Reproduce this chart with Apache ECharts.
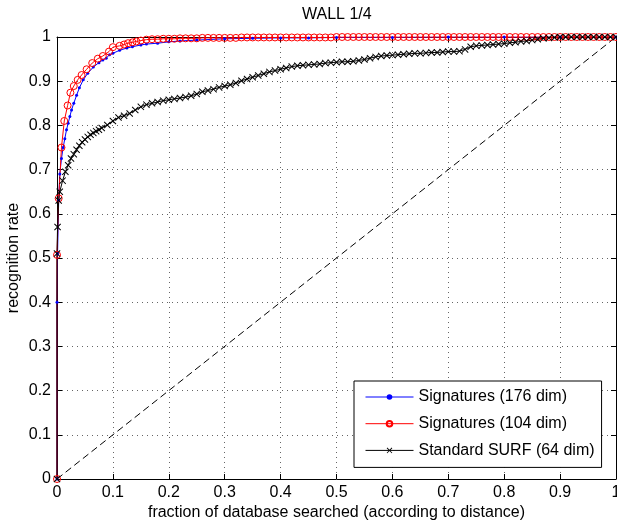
<!DOCTYPE html>
<html>
<head>
<meta charset="utf-8">
<script src="https://cdn.jsdelivr.net/npm/echarts@6/dist/echarts.min.js"></script>
<style>
  html, body { margin: 0; padding: 0; background: #fff; }
  #main { width: 617px; height: 522px; }
</style>
</head>
<body>
<div id="main"></div>
<script>
// [fraction searched, recognition rate]
var sig176 = [
  [0, 0], [0, 0.40], [0.001, 0.51], [0.003, 0.63], [0.005, 0.69], [0.008, 0.725],
  [0.011, 0.75], [0.014, 0.77], [0.017, 0.79], [0.02, 0.805], [0.023, 0.82],
  [0.026, 0.835], [0.03, 0.85], [0.035, 0.868], [0.04, 0.885], [0.047, 0.903],
  [0.055, 0.918], [0.065, 0.932], [0.075, 0.942], [0.082, 0.948], [0.088, 0.952],
  [0.094, 0.96], [0.1, 0.963], [0.112, 0.97], [0.125, 0.975], [0.135, 0.978],
  [0.15, 0.982], [0.16, 0.984], [0.18, 0.986], [0.2, 0.989], [0.22, 0.991],
  [0.25, 0.993], [0.3, 0.996], [0.35, 0.997], [0.4, 0.998], [0.45, 0.998],
  [0.5, 0.999], [0.6, 0.999], [0.7, 1], [0.8, 1], [0.9, 1], [1, 1]
];

var sig104 = [
  [0, 0], [0, 0.507], [0.003, 0.635], [0.008, 0.75], [0.013, 0.81], [0.019, 0.845],
  [0.024, 0.874], [0.03, 0.889], [0.037, 0.903], [0.044, 0.914], [0.053, 0.927],
  [0.063, 0.941], [0.073, 0.951], [0.082, 0.957], [0.093, 0.967], [0.1, 0.977],
  [0.112, 0.98], [0.12, 0.983], [0.127, 0.986], [0.135, 0.988], [0.142, 0.99],
  [0.15, 0.992], [0.16, 0.994], [0.17, 0.995], [0.18, 0.995], [0.19, 0.996],
  [0.2, 0.996], [0.21, 0.996], [0.22, 0.997], [0.23, 0.997], [0.24, 0.997],
  [0.25, 0.997], [0.26, 0.998], [0.27, 0.998], [0.28, 0.998], [0.29, 0.998],
  [0.3, 0.998], [0.31, 0.998], [0.32, 0.998], [0.33, 0.999], [0.34, 0.999],
  [0.35, 0.999], [0.36, 0.999], [0.37, 0.999], [0.38, 0.999], [0.39, 0.999],
  [0.4, 0.999], [0.41, 0.999], [0.42, 0.999], [0.43, 0.999], [0.44, 0.999],
  [0.45, 0.999], [0.46, 0.999], [0.47, 0.999], [0.48, 0.999], [0.49, 0.999],
  [0.5, 1], [0.51, 1], [0.52, 1], [0.53, 1], [0.54, 1], [0.55, 1], [0.56, 1],
  [0.57, 1], [0.58, 1], [0.59, 1], [0.6, 1], [0.61, 1], [0.62, 1], [0.63, 1],
  [0.64, 1], [0.65, 1], [0.66, 1], [0.67, 1], [0.68, 1], [0.69, 1], [0.7, 1],
  [0.71, 1], [0.72, 1], [0.73, 1], [0.74, 1], [0.75, 1], [0.76, 1], [0.77, 1],
  [0.78, 1], [0.79, 1], [0.8, 1], [0.81, 1], [0.82, 1], [0.83, 1], [0.84, 1],
  [0.85, 1], [0.86, 1], [0.87, 1], [0.88, 1], [0.89, 1], [0.9, 1], [0.91, 1],
  [0.92, 1], [0.93, 1], [0.94, 1], [0.95, 1], [0.96, 1], [0.97, 1], [0.98, 1],
  [0.99, 1], [1, 1]
];

var surf64 = [
  [0, 0], [0, 0.51], [0.001, 0.57], [0.003, 0.63], [0.005, 0.65], [0.01, 0.675],
  [0.015, 0.695], [0.02, 0.71], [0.025, 0.725], [0.03, 0.735], [0.035, 0.745],
  [0.04, 0.754], [0.045, 0.762], [0.05, 0.768], [0.055, 0.774], [0.06, 0.779],
  [0.065, 0.783], [0.07, 0.787], [0.075, 0.79], [0.08, 0.794], [0.09, 0.801],
  [0.1, 0.81], [0.11, 0.818], [0.12, 0.822], [0.13, 0.827], [0.14, 0.835],
  [0.15, 0.842], [0.16, 0.847], [0.17, 0.85], [0.18, 0.853], [0.19, 0.856],
  [0.2, 0.858], [0.21, 0.86], [0.22, 0.862], [0.23, 0.864], [0.24, 0.867],
  [0.25, 0.871], [0.26, 0.876], [0.27, 0.879], [0.28, 0.882], [0.29, 0.886],
  [0.3, 0.889], [0.31, 0.892], [0.32, 0.896], [0.33, 0.901], [0.34, 0.905],
  [0.35, 0.909], [0.36, 0.913], [0.37, 0.917], [0.38, 0.921], [0.39, 0.924],
  [0.4, 0.927], [0.41, 0.93], [0.42, 0.933], [0.43, 0.935], [0.44, 0.936],
  [0.45, 0.937], [0.46, 0.938], [0.47, 0.939], [0.48, 0.941], [0.49, 0.942],
  [0.5, 0.943], [0.51, 0.944], [0.52, 0.944], [0.53, 0.945], [0.54, 0.947],
  [0.55, 0.949], [0.56, 0.952], [0.57, 0.955], [0.58, 0.957], [0.59, 0.958],
  [0.6, 0.959], [0.61, 0.96], [0.62, 0.961], [0.63, 0.962], [0.64, 0.963],
  [0.65, 0.963], [0.66, 0.964], [0.67, 0.965], [0.68, 0.965], [0.69, 0.966],
  [0.7, 0.967], [0.71, 0.967], [0.72, 0.968], [0.73, 0.972], [0.74, 0.978],
  [0.75, 0.98], [0.76, 0.981], [0.77, 0.982], [0.78, 0.983], [0.79, 0.984],
  [0.8, 0.985], [0.81, 0.987], [0.82, 0.988], [0.83, 0.99], [0.84, 0.991],
  [0.85, 0.993], [0.86, 0.995], [0.87, 0.997], [0.88, 0.998], [0.89, 0.999],
  [0.9, 1], [0.91, 1], [0.92, 1], [0.93, 1], [0.94, 1], [0.95, 1], [0.96, 1],
  [0.97, 1], [0.98, 1], [0.99, 1], [1, 1]
];

var chanceLine = [[0, 0], [1, 1]];

var seriesNames = ['Signatures (176 dim)', 'Signatures (104 dim)', 'Standard SURF (64 dim)'];

var FONT = 'Liberation Sans, Arial, Helvetica, sans-serif';
var crossPath = 'path://M0,1L1,0L5,4L9,0L10,1L6,5L10,9L9,10L5,6L1,10L0,9L4,5Z';

var chart = echarts.init(document.getElementById('main'), null, { renderer: 'canvas' });

function frameAxis(pos) {
  return {
    type: 'value', position: pos, min: 0, max: 1, interval: 0.1,
    axisLine: { show: true, onZero: false, lineStyle: { color: '#000', width: 1 } },
    axisTick: { show: true, inside: true, length: 5, lineStyle: { color: '#000' } },
    axisLabel: { show: false },
    splitLine: { show: false }
  };
}

var option = {
  animation: false,
  backgroundColor: '#fff',
  textStyle: { fontFamily: FONT },
  title: {
    text: 'WALL 1/4',
    left: 302, top: 7, padding: 0,
    textStyle: { fontFamily: FONT, fontSize: 16, fontWeight: 'normal', color: '#000' }
  },
  grid: { left: 57, top: 37, right: 1, bottom: 43, containLabel: false, outerBoundsMode: 'none' },
  legend: {
    data: seriesNames,
    orient: 'vertical',
    left: 354, top: 381,
    padding: [8, 7, 9, 11],
    itemWidth: 48, itemHeight: 7, itemGap: 10.7,
    backgroundColor: '#fff',
    borderColor: '#000', borderWidth: 1, borderRadius: 0,
    lineStyle: { width: 1 },
    textStyle: { fontFamily: FONT, fontSize: 16, color: '#000', lineHeight: 16 }
  },
  xAxis: [{
    type: 'value', min: 0, max: 1, interval: 0.1,
    name: 'fraction of database searched (according to distance)',
    nameLocation: 'middle', nameGap: 26, nameMoveOverlap: false,
    nameTextStyle: { fontFamily: FONT, fontSize: 16, color: '#000' },
    axisLine: { show: true, onZero: false, lineStyle: { color: '#000', width: 1 } },
    axisTick: { show: true, inside: true, length: 5, lineStyle: { color: '#000' } },
    axisLabel: { fontFamily: FONT, fontSize: 16, color: '#000', margin: 6 },
    splitLine: { show: true, lineStyle: { color: '#666', type: [1, 4], width: 1 } }
  }, frameAxis('top')],
  yAxis: [{
    type: 'value', min: 0, max: 1, interval: 0.1,
    name: 'recognition rate',
    nameLocation: 'middle', nameGap: 35, nameMoveOverlap: false,
    nameTextStyle: { fontFamily: FONT, fontSize: 16, color: '#000' },
    axisLine: { show: true, onZero: false, lineStyle: { color: '#000', width: 1 } },
    axisTick: { show: true, inside: true, length: 5, lineStyle: { color: '#000' } },
    axisLabel: { fontFamily: FONT, fontSize: 16, color: '#000', margin: 6 },
    splitLine: { show: true, lineStyle: { color: '#666', type: [1, 4], width: 1 } }
  }, frameAxis('right')],
  series: [
    {
      name: 'chance',
      type: 'line',
      data: chanceLine,
      symbol: 'none',
      silent: true,
      lineStyle: { color: '#000', width: 1, type: [7, 4] }
    },
    {
      name: seriesNames[0],
      type: 'line',
      data: sig176,
      symbol: 'circle', symbolSize: 3, showAllSymbol: true,
      itemStyle: { color: '#0000ff' },
      lineStyle: { color: '#0000ff', width: 1 }
    },
    {
      name: seriesNames[1],
      type: 'line',
      data: sig104,
      symbol: 'circle', symbolSize: 7, showAllSymbol: true,
      itemStyle: { color: 'rgba(0,0,0,0)', borderColor: '#ff0000', borderWidth: 1 },
      lineStyle: { color: '#ff0000', width: 1 }
    },
    {
      name: seriesNames[2],
      type: 'line',
      data: surf64,
      symbol: crossPath, symbolSize: 7, showAllSymbol: true,
      itemStyle: { color: '#000' },
      lineStyle: { color: '#000', width: 1 }
    }
  ]
};

chart.setOption(option);
</script>
</body>
</html>
